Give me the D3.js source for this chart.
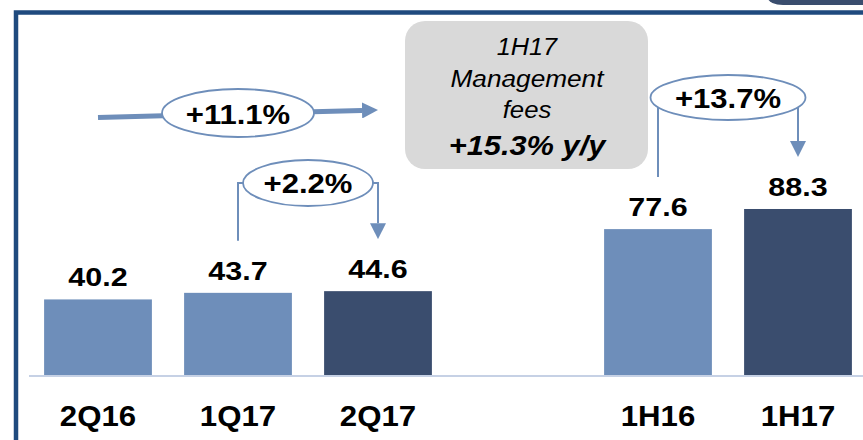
<!DOCTYPE html>
<html>
<head>
<meta charset="utf-8">
<script src="https://cdn.jsdelivr.net/npm/d3@7"></script>
<style>
body { margin: 0; background: #fff; }
text { font-family: "Liberation Sans", Arial, sans-serif; fill: #000; }
</style>
</head>
<body>
<script>
var categories = ['2Q16', '1Q17', '2Q17', '1H16', '1H17'];
var values = [40.2, 43.7, 44.6, 77.6, 88.3];
var current = ['2Q17', '1H17'];

var changeLabels = ['+11.1%', '+2.2%', '+13.7%'];
var changeFrom = ['2Q16', '1Q17', '1H16'];
var changeTo = ['2Q17', '2Q17', '1H17'];

var boxLines = ['1H17', 'Management', 'fees', '+15.3% y/y'];

var width = 863, height = 440;
var lightBlue = '#6e8eba', darkBlue = '#3a4d6e', frame = '#1f4a7e';

// empty slot between the quarters and the half years
var slots = categories.slice(0, 3).concat(['gap'], categories.slice(3));
var x = d3.scaleBand().domain(slots).range([28, 868]).paddingInner(0.23).paddingOuter(0.115);
var y = d3.scaleLinear().domain([0, 100]).range([375, 187]);
function cx(c) { return x(c) + x.bandwidth() / 2; }
function val(c) { return values[categories.indexOf(c)]; }

var svg = d3.select('body').append('svg').attr('width', width).attr('height', height);

svg.append('defs').append('marker')
    .attr('id', 'head').attr('markerUnits', 'userSpaceOnUse')
    .attr('viewBox', '0 0 16 16').attr('refX', 0).attr('refY', 8)
    .attr('markerWidth', 16).attr('markerHeight', 16).attr('orient', 'auto')
    .append('path').attr('d', 'M0,0L16,8L0,16Z').attr('fill', lightBlue);

function label(g, txt, px, py, size, sx, weight, style) {
    return g.append('text')
        .attr('transform', 'translate(' + px + ',' + py + ') scale(' + sx + ',1)')
        .attr('text-anchor', 'middle')
        .style('font-size', size + 'px')
        .style('font-weight', weight || 'bold')
        .style('font-style', style || 'normal')
        .text(txt);
}

// frame
svg.append('path')
    .attr('d', 'M16,440V12.5H863')
    .attr('fill', 'none').attr('stroke', frame).attr('stroke-width', 4.5);
svg.append('path')
    .attr('d', 'M768,-2H870V5H783A15,7 0 0 1 768,-2Z')
    .attr('fill', darkBlue);

// bars
svg.append('g').selectAll('rect')
    .data(categories)
    .enter().append('rect')
    .attr('x', function(d) { return x(d); })
    .attr('y', function(d) { return y(val(d)); })
    .attr('width', x.bandwidth())
    .attr('height', function(d) { return y(0) - y(val(d)); })
    .attr('fill', function(d) { return current.indexOf(d) >= 0 ? darkBlue : lightBlue; });

svg.append('line')
    .attr('x1', 29).attr('x2', width).attr('y1', y(0) + 1).attr('y2', y(0) + 1)
    .attr('stroke', '#c6d1e5').attr('stroke-width', 2);

var valueG = svg.append('g');
categories.forEach(function(c) {
    label(valueG, d3.format('.1f')(val(c)), cx(c), y(val(c)) - 13, 26.5, 1.15);
});

var axisG = svg.append('g');
categories.forEach(function(c) {
    label(axisG, c, cx(c), 426, 30, 1.04);
});

// grey call-out box
var box = svg.append('g');
box.append('rect').attr('x', 405).attr('y', 21).attr('width', 243).attr('height', 148)
    .attr('rx', 20).attr('fill', '#d9d9d9');
label(box, boxLines[0], 527, 55, 24.5, 1.03, 'normal', 'italic');
label(box, boxLines[1], 527, 87, 24.5, 1.07, 'normal', 'italic');
label(box, boxLines[2], 527, 118, 24.5, 1.05, 'normal', 'italic');
label(box, boxLines[3], 527, 155, 28, 1.1, 'bold', 'italic');

// change annotations
var bubbles = [
    { cy: 113, rx: 76, ry: 24, ty: 124 },
    { cy: 183, rx: 65, ry: 23, ty: 193 },
    { cy: 97.5, rx: 77.5, ry: 22.5, ty: 108 }
];
var notes = svg.append('g');

// long arrow across the quarters
notes.append('path')
    .attr('d', d3.line()([[cx(changeFrom[0]), 117.5], [cx(changeTo[0]) - 16, 110.5]]))
    .attr('fill', 'none').attr('stroke', lightBlue).attr('stroke-width', 5)
    .attr('marker-end', 'url(#head)');

// bracket arrows
[1, 2].forEach(function(i) {
    var a = cx(changeFrom[i]), b = cx(changeTo[i]);
    notes.append('path')
        .attr('d', 'M' + a + ',' + (y(val(changeFrom[i])) - 52) + 'V' + bubbles[i].cy +
            'H' + b + 'V' + (y(val(changeTo[i])) - 52 - 16))
        .attr('fill', 'none').attr('stroke', lightBlue).attr('stroke-width', 2)
        .attr('marker-end', 'url(#head)');
});

changeLabels.forEach(function(t, i) {
    var mid = (cx(changeFrom[i]) + cx(changeTo[i])) / 2;
    notes.append('ellipse')
        .attr('cx', mid).attr('cy', bubbles[i].cy)
        .attr('rx', bubbles[i].rx).attr('ry', bubbles[i].ry)
        .attr('fill', '#fff').attr('stroke', lightBlue).attr('stroke-width', 1.8);
    label(notes, t, mid, bubbles[i].ty, 27, 1.15);
});
</script>
</body>
</html>
